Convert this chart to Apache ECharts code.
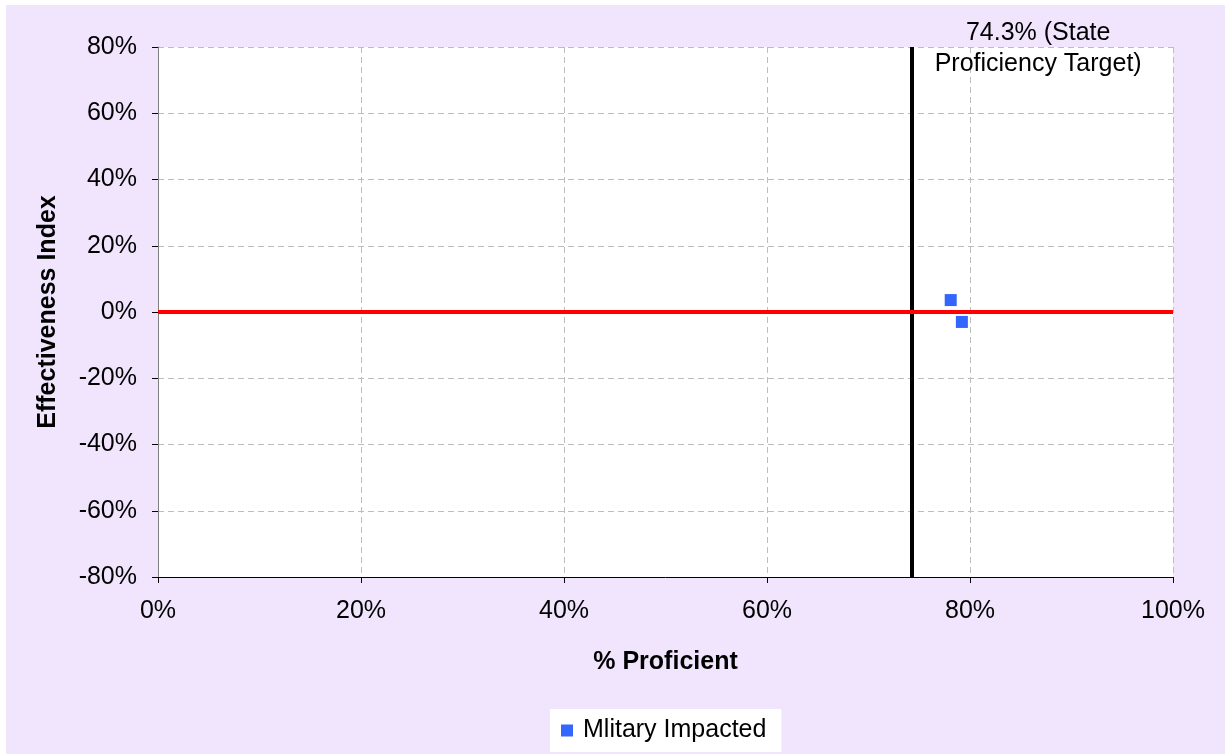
<!DOCTYPE html>
<html>
<head>
<meta charset="utf-8">
<title>Effectiveness Index vs % Proficient</title>
<script src="https://cdn.jsdelivr.net/npm/echarts@6/dist/echarts.min.js"></script>
<style>
  html, body { margin: 0; padding: 0; background: #ffffff; }
  #bg { position: absolute; left: 6px; top: 5px; width: 1219px; height: 749px; background: #F0E5FD; }
  #main { position: absolute; left: 0; top: 0; width: 1225px; height: 754px; }
</style>
</head>
<body>
<div id="bg"></div>
<div id="main"></div>
<script>
// data
var seriesName = 'Mlitary Impacted';
var proficient = [78.1, 79.2];       // % proficient (x)
var effectiveness = [3.6, -3.0];     // effectiveness index (y)
var stateTarget = 74.3;              // state proficiency target
var targetLabel = '74.3% (State\nProficiency Target)';

var chart = echarts.init(document.getElementById('main'));

var points = proficient.map(function (x, i) {
  return [x, effectiveness[i]];
});

var font = 'Liberation Sans, Arial, sans-serif';

var option = {
  backgroundColor: 'transparent',
  animation: false,
  grid: {
    left: 158,
    right: 52,
    top: 47,
    bottom: 177,
    backgroundColor: '#ffffff',
    show: true,
    borderWidth: 0
  },
  legend: {
    data: [seriesName],
    bottom: 2,
    left: 550,
    backgroundColor: '#ffffff',
    padding: [9, 15, 9, 11],
    itemWidth: 12,
    itemHeight: 12,
    itemGap: 5,
    textStyle: { fontFamily: font, fontSize: 25, color: '#000', padding: [0, 0, 0, 5] }
  },
  xAxis: {
    type: 'value',
    min: 0,
    max: 100,
    interval: 20,
    name: '% Proficient',
    nameLocation: 'middle',
    nameGap: 73,
    nameTextStyle: { fontFamily: font, fontSize: 25, fontWeight: 'bold', color: '#000' },
    axisLine: { show: true, onZero: false, lineStyle: { color: '#000', width: 1 } },
    axisTick: { show: true, length: 6, lineStyle: { color: '#000' } },
    axisLabel: {
      fontFamily: font, fontSize: 25, color: '#000', margin: 22,
      formatter: function (v) { return v + '%'; }
    },
    splitLine: { show: true, lineStyle: { type: [6, 4], color: '#BDBDBD', width: 1 } }
  },
  yAxis: {
    type: 'value',
    min: -80,
    max: 80,
    interval: 20,
    name: 'Effectiveness Index',
    nameLocation: 'middle',
    nameGap: 97,
    nameTextStyle: { fontFamily: font, fontSize: 25, fontWeight: 'bold', color: '#000' },
    axisLine: { show: true, onZero: false, lineStyle: { color: '#808080', width: 1 } },
    axisTick: { show: true, length: 6, lineStyle: { color: '#000' } },
    axisLabel: {
      fontFamily: font, fontSize: 25, color: '#000', margin: 21,
      formatter: function (v) { return v + '%'; }
    },
    splitLine: { show: true, lineStyle: { type: [6, 4], color: '#BDBDBD', width: 1 } }
  },
  series: [
    {
      name: seriesName,
      type: 'scatter',
      symbol: 'rect',
      symbolSize: 12,
      itemStyle: { color: '#3366FF', opacity: 1 },
      data: points,
      z: 5,
      markLine: {
        silent: true,
        symbol: 'none',
        animation: false,
        data: [
          {
            xAxis: stateTarget,
            lineStyle: { color: '#000000', width: 4, type: 'solid' },
            label: {
              show: true,
              position: 'end',
              formatter: targetLabel,
              fontFamily: font,
              fontSize: 25,
              lineHeight: 31,
              color: '#000',
              align: 'center',
              offset: [126, 38]
            }
          },
          {
            yAxis: 0,
            lineStyle: { color: '#FF0000', width: 4, type: 'solid' },
            label: { show: false }
          }
        ]
      }
    }
  ]
};

chart.setOption(option);
</script>
</body>
</html>
